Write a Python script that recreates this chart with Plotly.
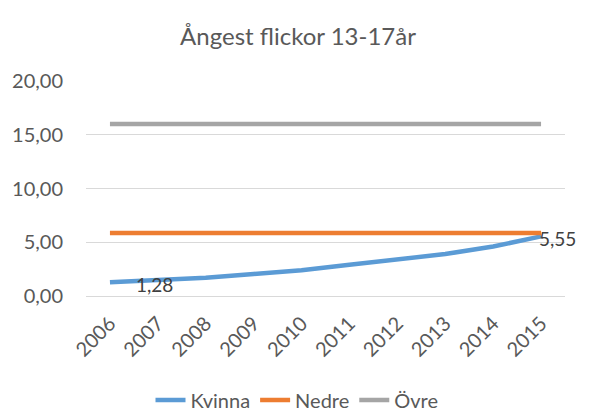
import plotly.graph_objects as go

years = ["2006", "2007", "2008", "2009", "2010", "2011", "2012", "2013", "2014", "2015"]
kvinna = [1.28, 1.45, 1.70, 2.05, 2.40, 2.90, 3.40, 3.90, 4.60, 5.55]
nedre = [5.86] * 10
ovre = [16.0] * 10
y_ticks = [0, 5, 10, 15, 20]

font_fam = "Lato, Open Sans, sans-serif"
W, H = 589, 415

fig = go.Figure()
fig.add_trace(go.Scatter(x=years, y=kvinna, name="Kvinna", mode="lines",
                         line=dict(color="#5B9BD5", width=4.5), cliponaxis=False))
fig.add_trace(go.Scatter(x=years, y=nedre, name="Nedre", mode="lines",
                         line=dict(color="#ED7D31", width=4.5), cliponaxis=False))
fig.add_trace(go.Scatter(x=years, y=ovre, name="Övre", mode="lines",
                         line=dict(color="#A5A5A5", width=4.5), cliponaxis=False))

# data labels on first and last Kvinna points
for idx, xs, ys in [(0, 24, -2), (len(years) - 1, -4, -2)]:
    fig.add_annotation(x=idx, y=kvinna[idx], xref="x", yref="y",
                       text=f"{kvinna[idx]:.2f}".replace(".", ","),
                       showarrow=False, xanchor="left", yanchor="middle", xshift=xs, yshift=ys,
                       font=dict(family=font_fam, size=19, color="#404040"))

fig.update_layout(
    width=W, height=H,
    margin=dict(l=86, r=24, t=81, b=119, autoexpand=False),
    paper_bgcolor="white", plot_bgcolor="white",
    separators=",.",
    font=dict(family=font_fam, size=20, color="#595959"),
    title=dict(text="Ångest flickor 13-17år", x=298 / W, xref="container", xanchor="center",
               y=1 - 37 / H, yref="container", yanchor="middle",
               font=dict(size=24, color="#595959", family=font_fam)),
    xaxis=dict(type="category", range=[-0.5, 9.5], tickangle=-45, showgrid=False,
               showline=False, ticks="", ticklabelstandoff=11,
               tickfont=dict(size=20, color="#595959")),
    yaxis=dict(range=[0, 20], tickvals=y_ticks, tickformat=".2f", gridcolor="#D9D9D9",
               gridwidth=1, zeroline=True, zerolinecolor="#D9D9D9", zerolinewidth=1,
               showline=False, ticks="", ticklabelstandoff=22,
               tickfont=dict(size=20, color="#595959")),
    legend=dict(orientation="h", x=(297 - 86) / (W - 86 - 24), xanchor="center",
                y=-(400 - 296) / (296 - 81), yanchor="middle", borderwidth=0,
                font=dict(size=20, color="#595959"), traceorder="normal"),
    showlegend=True,
)

fig.write_html("out.html", config={"displayModeBar": False},
               post_script="document.body.style.margin='0px';document.body.style.overflow='hidden';")
